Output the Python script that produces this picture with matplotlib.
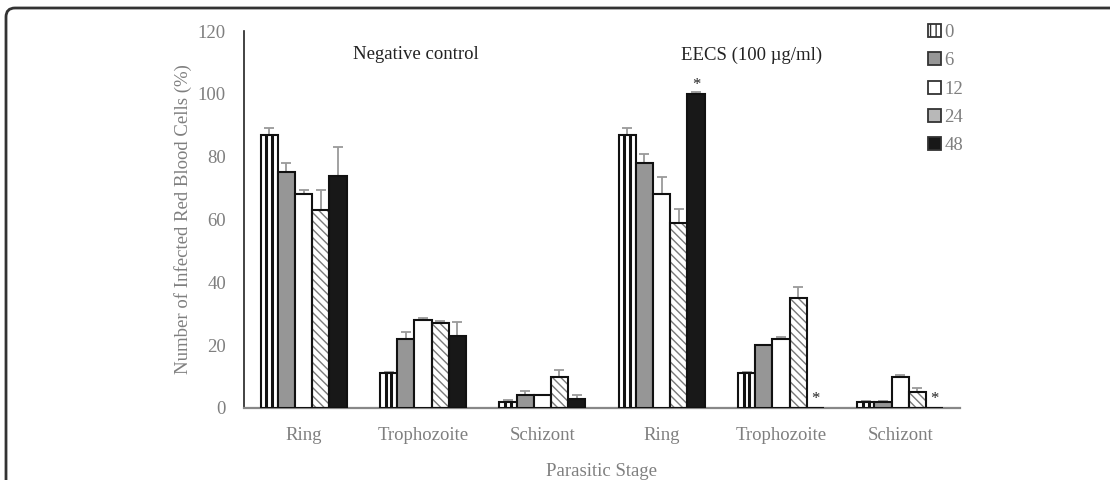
import numpy as np
import matplotlib
matplotlib.use('Agg')
import matplotlib.pyplot as plt
from matplotlib.patches import Patch, FancyBboxPatch

plt.rcParams['font.family'] = ['Liberation Serif', 'DejaVu Serif']

# Datos
stages = ['Ring', 'Trophozoite', 'Schizont', 'Ring', 'Trophozoite', 'Schizont']
hours = ['0', '6', '12', '24', '48']

v0 = [87, 11, 2, 87, 11, 2]
v6 = [75, 22, 4, 78, 20, 2]
v12 = [68, 28, 4, 68, 22, 10]
v24 = [63, 27, 10, 59, 35, 5]
v48 = [74, 23, 3, 100, 0, 0]

e0 = [2, 0.6, 0.5, 2, 0.5, 0.3]
e6 = [3, 2.2, 1.3, 3, 0, 0.3]
e12 = [1.4, 0.6, 0, 5.6, 0.5, 0.5]
e24 = [6.3, 0.6, 2, 4.3, 3.6, 1.3]
e48 = [9.2, 4.5, 1.2, 0.5, 0, 0]

stars = [(3, 4), (4, 4), (5, 4)]  # (grupo, serie) con asterisco

values = [v0, v6, v12, v24, v48]
errors = [e0, e6, e12, e24, e48]

gray_txt = '#7f7f7f'
fs = 13.5

fig = plt.figure(figsize=(11.1, 4.8), dpi=100)
ax = fig.add_axes([0.2198, 0.15, 0.645, 0.7854])

x = np.arange(len(stages))
w = 0.144
offsets = (np.arange(5) - 2) * w

styles = [
    dict(fc='white', hatch=None, hc=None, hlw=1.0),
    dict(fc='#969696', hatch=None, hc=None, hlw=1.0),
    dict(fc='white', hatch=None, hc=None, hlw=1.0),
    dict(fc='white', hatch='\\\\\\\\', hc='#7a7a7a', hlw=1.0),
    dict(fc='#181818', hatch=None, hc=None, hlw=1.0),
]

for i in range(5):
    st = styles[i]
    xs = x + offsets[i]
    vals = np.array(values[i])
    if st['hatch']:
        with plt.rc_context({'hatch.linewidth': st['hlw']}):
            ax.bar(xs, vals, w, color=st['fc'], edgecolor=st['hc'],
                   hatch=st['hatch'], linewidth=0, zorder=2)
    ax.bar(xs, vals, w, facecolor=st['fc'] if not st['hatch'] else 'none',
           edgecolor='#111111', linewidth=1.5, zorder=3)
    err = np.array(errors[i])
    mask = (err > 0)
    ax.errorbar(xs[mask], vals[mask], yerr=[np.zeros(mask.sum()), err[mask]],
                fmt='none', ecolor='#9a9a9a', elinewidth=1.3, capsize=3.5,
                capthick=1.3, zorder=1)

# rayas verticales de la serie 0 h
xs0 = x + offsets[0]
for k in (1, 2):
    ax.vlines(xs0 - w / 2 + k * w / 3, 0, v0, color='#111111', linewidth=2.2, zorder=4)

for g, s in stars:
    ax.text(x[g] + offsets[s], values[s][g] + 0.3, '*', ha='center', va='bottom',
            fontsize=12, color='#222222')

ax.text(0.94, 112.4, 'Negative control', ha='center', va='center',
        fontsize=fs, color='#222222')
ax.text(3.75, 112.4, 'EECS (100 µg/ml)', ha='center', va='center',
        fontsize=fs, color='#222222')

ax.set_xlim(-0.5, 5.5)
ax.set_ylim(0, 120)
ax.set_yticks(np.arange(0, 121, 20))
ax.set_xticks(x)
ax.set_xticklabels(stages)
ax.tick_params(axis='y', length=0, pad=13, labelsize=fs, labelcolor=gray_txt)
ax.tick_params(axis='x', length=0, pad=14, labelsize=fs, labelcolor=gray_txt)

for side in ['top', 'right']:
    ax.spines[side].set_visible(False)
ax.spines['left'].set_color('#222222')
ax.spines['left'].set_linewidth(1.2)
ax.spines['bottom'].set_color('#888888')
ax.spines['bottom'].set_linewidth(1.6)

ax.set_ylabel('Number of Infected Red Blood Cells (%)', fontsize=fs,
              color=gray_txt, labelpad=4.5)
ax.set_xlabel('Parasitic Stage', fontsize=fs, color=gray_txt, labelpad=13)

# Leyenda
handles = []
leg_styles = [('white', '|||'), ('#969696', None), ('white', None),
              ('#b8b8b8', None), ('#181818', None)]
for fc, h in leg_styles:
    handles.append(Patch(facecolor=fc, edgecolor='#333333', hatch=h, linewidth=1.3))
leg = fig.legend(handles, hours, loc='upper left', bbox_to_anchor=(0.829, 0.966),
                 frameon=False, fontsize=fs, handlelength=0.7, handleheight=0.7,
                 handletextpad=0.2, labelspacing=0.6, borderaxespad=0)
for t in leg.get_texts():
    t.set_color(gray_txt)

# Marco redondeado de la figura
frame = FancyBboxPatch((0.06, -0.5), 11.5, 4.72 + 0.5,
                       boxstyle='round,pad=0,rounding_size=0.09',
                       transform=fig.dpi_scale_trans, facecolor='none',
                       edgecolor='#333333', linewidth=2.0)
fig.patches.append(frame)

fig.savefig('out.png', dpi=100)
